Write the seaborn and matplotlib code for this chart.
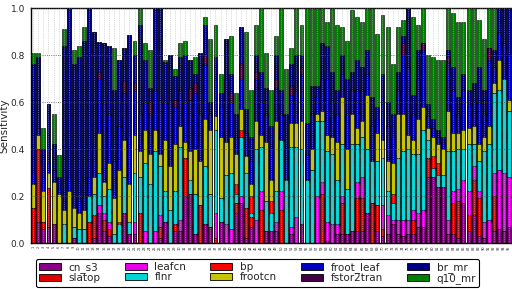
import numpy as np
import pandas as pd
import matplotlib
matplotlib.use('Agg')
import matplotlib.pyplot as plt
from matplotlib.patches import Patch
import seaborn as sns

params = ['cn_s3', 'slatop', 'leafcn', 'flnr', 'bp',
          'frootcn', 'froot_leaf', 'fstor2tran', 'br_mr', 'q10_mr']
colors = ['#880088', '#e00000', '#e800e8', '#00d4d4', '#ff0000',
          '#c4c400', '#0000c0', '#440044', '#000084', '#008000']

# sensitivity contribution of each parameter, one value per bar
cn_s3 = [0, .09, .06, .07, .08, 0, 0, 0, .02, 0,
         0, 0, .02, .13, .05, .03, 0, 0, .13, .04,
         .04, 0, 0, 0, 0, .02, .09, 0, .05, .05,
         .20, .21, .04, 0, .08, .07, 0, .09, 0, 0,
         .13, .17, .02, .07, 0, 0, .05, .05, .05, 0,
         0, .04, 0, .08, 0, 0, 0, 0, .01, 0,
         .04, .04, .04, .05, .05, .05, .13, 0, .05, .03,
         .04, .08, .04, .03, .04, .04, .07, .07, .28, .28,
         .24, .24, .04, .04, .02, .17, .05, .12, .03, .02,
         0, .05, .06, .05, .07]
slatop = [.15, .31, .03, .165, 0, 0, 0, 0, 0, 0,
          0, .09, .10, 0, .05, .03, 0, 0, 0, 0,
          0, .13, 0, 0, 0, .05, 0, 0, .03, 0,
          .16, 0, 0, .16, 0, 0, .02, 0, 0, 0,
          .04, 0, .13, .04, 0, .14, 0, 0, 0, .14,
          0, 0, 0, 0, 0, 0, 0, .21, 0, 0,
          0, .13, 0, 0, .14, .14, 0, .17, .11, .03,
          0, 0, 0, 0, 0, .06, 0, 0, .08, 0,
          0, 0, 0, .13, .16, 0, .07, .15, .16, 0,
          0, .15, 0, 0, 0]
leafcn = [0, 0, 0, 0, 0, 0, 0, 0, 0, 0,
          0, 0, 0, .03, .03, .03, 0, 0, 0, 0,
          .05, 0, .05, 0, .05, .05, 0, 0, 0, .05,
          0, 0, 0, 0, 0, 0, .11, 0, .08, .06,
          0, .03, 0, 0, .10, .08, 0, 0, .04, .08,
          0, .03, .11, 0, 0, 0, .20, .05, .08, .08,
          .04, .03, 0, 0, .07, .09, 0, 0, 0, .10,
          .08, .02, .06, .07, .06, .04, .06, .07, 0, 0,
          0, 0, .06, .05, .05, .10, .10, .06, .03, .07,
          .10, .10, .25, .25, .21]
flnr = [0, 0, 0, 0, 0, 0, .08, 0, .05, .06,
        .06, .11, .09, .14, .07, .14, .04, .08, .15, .05,
        .21, .15, .29, .25, .34, .21, .13, .14, .14, .31,
        0, .06, .17, 0, .25, .14, .35, .10, .21, .24,
        .04, .25, .15, .02, .30, .19, .13, .08, .13, .22,
        .27, .34, .30, .32, .27, .31, .32, .26, .30, .30,
        .19, .22, .19, .37, .16, .17, .27, .18, .19, .20,
        .10, .07, .26, .29, .30, .24, .25, .34, .08, .04,
        .05, .05, .29, .17, .17, .13, .20, .09, .13, .30,
        .32, .34, .34, .40, .28]
bp = [0, 0, 0, 0, 0, 0, 0, 0, 0, 0,
      0, 0, 0, 0, 0, 0, 0, .01, 0, 0,
      0, 0, 0, 0, 0, 0, 0, 0, 0, 0,
      0, 0, 0, 0, 0, 0, 0, 0, 0, 0,
      .04, .03, 0, .07, 0, 0, 0, .05, 0, 0,
      0, 0, 0, 0, 0, 0, 0, 0, 0, 0,
      0, 0, 0, 0, 0, 0, 0, 0, 0, 0,
      0, .04, 0, 0, 0, 0, 0, 0, 0, .05,
      .05, 0, 0, 0, 0, 0, 0, 0, 0, 0,
      0, 0, 0, 0, 0]
frootcn = [.10, .06, .13, .065, .18, .21, .06, .22, .08, .07,
           .08, 0, .07, .17, .06, .11, .15, .22, .16, .16,
           .16, .11, .14, .13, .09, .05, .22, .19, .20, .09,
           .07, .12, .19, .19, .20, .27, .06, .26, .14, .15,
           .13, .09, .07, .05, .12, .05, .25, .09, .30, 0,
           0, .10, .10, .12, 0, .09, .03, .04, .07, .07,
           .16, .20, .17, .13, .07, .07, .23, 0, .12, .08,
           .13, .13, .19, .16, .06, .06, .15, .10, .05, .08,
           .08, .11, .17, .08, .07, .08, .07, .08, .07, .06,
           .08, .04, .13, 0, .05]
froot_leaf = [.05, .03, .06, .04, .05, .02, .04, .06, .05, .05,
              .06, .08, .12, .23, .34, .21, .16, .19, .20, .20,
              .19, .16, .12, .17, .17, .22, .16, .27, .16, .15,
              .17, .22, .24, .20, .23, .07, .16, .13, .27, .15,
              .07, .13, .10, .10, .18, .14, .12, .13, .14, .11,
              .13, .12, .14, .20, .11, .15, .07, .14, .24, .15,
              .12, .10, .15, .10, .16, .13, .09, .15, .06, .16,
              .15, .11, .10, .25, .29, .11, .17, .24, .05, .04,
              .03, .03, .21, .18, .08, .17, .09, .10, .18, .10,
              .28, .07, .12, .15, .19]
fstor2tran = [0, 0, 0, 0, 0, 0, 0, 0, 0, 0,
              0, 0, 0, .03, 0, 0, 0, 0, .05, 0,
              .03, 0, 0, .05, 0, 0, 0, 0, .03, 0,
              0, .05, .04, 0, .04, 0, 0, 0, 0, .04,
              0, .06, 0, 0, .03, 0, 0, 0, .04, 0,
              0, .04, 0, .03, 0, 0, 0, 0, 0, 0,
              0, 0, 0, 0, 0, 0, 0, 0, 0, 0,
              0, 0, 0, .05, 0, 0, 0, .03, 0, 0,
              0, 0, .02, 0, 0, 0, 0, 0, 0, 0,
              .05, 0, 0, 0, 0]
br_mr = [.46, .30, .12, .25, .11, .05, .66, .72, .56, .61,
         .66, .72, .50, .125, .25, .29, .30, .28, .14, .435,
         .12, .38, .18, .06, .35, .40, .17, .20, .10, .14,
         .20, .12, .04, .26, .13, .05, .09, .06, .17, .08,
         .10, .16, .10, .10, .07, .13, .11, .10, .10, .10,
         .15, .09, .15, .05, .13, .12, .05, .15, .14, .13,
         .10, .08, .15, .08, .13, .10, .10, .12, .05, .12,
         .10, .10, .08, .03, .25, .08, .12, 0, .05, .04,
         .03, .02, .03, .10, .07, .07, .07, .08, .15, .10,
         0, .07, .10, .15, .20]
q10_mr = [.05, .02, .09, 0, .13, .095, .07, 0, .06, .05,
          .06, 0, 0, 0, 0, 0, .18, 0, 0, 0,
          .06, .07, .07, .16, 0, 0, .01, 0, .03, .06,
          .06, 0, .07, 0, .03, .27, .14, .08, 0, .16,
          .09, 0, .33, .20, .13, .27, .15, .15, .08, .35,
          .19, .07, .20, .13, .49, .33, .33, .15, .10, .27,
          .28, .12, .16, .26, .18, .19, .18, .38, .31, .25,
          .32, .21, .19, .07, 0, .33, .11, .15, .21, .26,
          .30, .33, .18, .23, .32, .22, .35, .32, .20, .22,
          .17, .18, 0, 0, 0]

sens = [cn_s3, slatop, leafcn, flnr, bp, frootcn, froot_leaf, fstor2tran, br_mr, q10_mr]
n = len(cn_s3)
bar_ids = np.arange(1, n + 1)

df = pd.DataFrame(dict(zip(params, sens)))
df['bar'] = bar_ids
cum = df[params].cumsum(axis=1)

sns.set_theme(style='white')
fig = plt.figure(figsize=(5.12, 2.89), dpi=100)
ax = fig.add_axes([0.0611, 0.159, 0.939, 0.813])

# stacked look: draw running totals from the top layer down
for p, c in reversed(list(zip(params, colors))):
    sns.barplot(x=df['bar'], y=cum[p].clip(upper=1.0), color=c, saturation=1,
                edgecolor='black', linewidth=0.4, errorbar=None, width=0.78, ax=ax)

ax.set_xlim(-0.4, n - 0.4)
ax.set_ylim(0, 1.0)
ax.set_yticks(np.arange(0, 1.01, 0.2))
ax.set_yticklabels(['%.1f' % v for v in np.arange(0, 1.01, 0.2)], fontsize=6.5)
ax.set_xticks(range(n))
ax.set_xticklabels(bar_ids, rotation=90, fontsize=2.5)
ax.tick_params(axis='x', length=1.5, pad=0.5, width=0.4)
ax.tick_params(axis='y', length=3, pad=1.5)
ax.set_xlabel('')
ax.set_ylabel('Sensitivity', fontsize=7.5, labelpad=1)
ax.xaxis.grid(True, color='#b8b8b8', linestyle=':', linewidth=0.5)
ax.yaxis.grid(True, color='#505050', linestyle=':', linewidth=0.6)
ax.set_axisbelow(False)
for s in ax.spines.values():
    s.set_color('black')
    s.set_linewidth(1.0)

handles = [Patch(facecolor=c, edgecolor='black', linewidth=0.6) for c in colors]
leg = fig.legend(handles, params, loc='upper left', bbox_to_anchor=(0.06, 0.121),
                 ncol=5, fontsize=7.5, frameon=True, fancybox=True, framealpha=1,
                 edgecolor='black', handlelength=2.1, handleheight=0.65,
                 labelspacing=0.0, columnspacing=2.3, borderpad=0.3, handletextpad=0.75)
leg.get_frame().set_linewidth(0.8)

fig.savefig('out.png', dpi=100)
